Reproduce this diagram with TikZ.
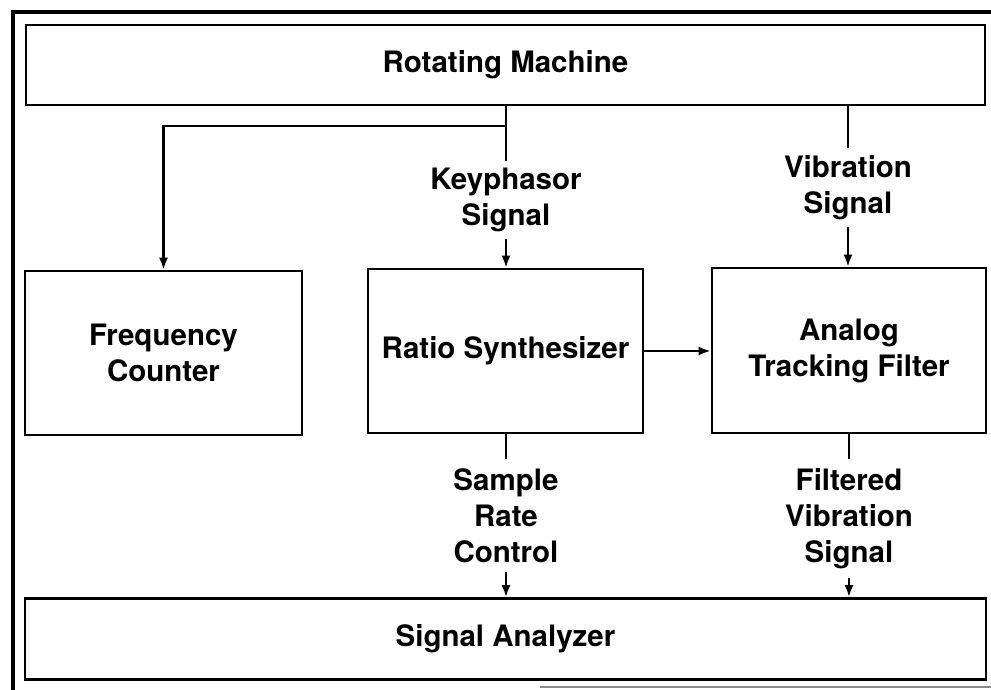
\documentclass[tikz,border=0pt]{standalone}
\usepackage{fontspec}
\setmainfont{TeX Gyre Heros}
\usetikzlibrary{arrows.meta}
\begin{document}
\begin{tikzpicture}[x=1pt,y=-1pt,
  txt/.style={font=\fontsize{29.5}{36}\selectfont\bfseries, align=center},
  block/.style={txt, draw, line width=2.6pt, inner sep=0pt},
  sig/.style={txt, inner xsep=2pt, inner ysep=7pt},
  wire/.style={line width=2.3pt},
  feed/.style={wire, -{Latex[length=12pt,width=9pt]}},
  frame/.style={line width=3.2pt}
]
\useasboundingbox (0,0) rectangle (991,690);

% outer frame
\draw[frame] (13,690) -- (13,12) -- (991,12);
\draw[line width=2pt, black!45] (540,687) -- (991,687);

% blocks
\node[block, minimum width=959pt, minimum height=80pt] (rm) at (505.5,65) {Rotating Machine};
\node[block, minimum width=277pt, minimum height=164pt] (fc) at (163.5,353) {Frequency\\Counter};
\node[block, minimum width=275pt, minimum height=164pt] (rs) at (505.5,351) {Ratio Synthesizer};
\node[block, minimum width=274pt, minimum height=165pt] (atf) at (849,350.5) {Analog\\Tracking Filter};
\node[block, minimum width=961pt, minimum height=81pt] (sa) at (505.5,639) {Signal Analyzer};

% signal labels
\node[sig, anchor=north] (kp) at (506,161) {Keyphasor\\Signal};
\node[sig, anchor=north] (vib) at (848,148) {Vibration\\Signal};
\node[sig, anchor=north, inner ysep=9pt] (src) at (506,459) {Sample\\Rate\\Control};
\node[sig, anchor=north, inner ysep=9pt] (fvs) at (849,459) {Filtered\\Vibration\\Signal};

% connectors
\coordinate (tap) at (506,126);
\draw[wire] (rm.south -| kp.north) -- (kp.north);
\draw[feed] (tap) -| (fc.north);
\draw[feed] (kp.south) -- (rs.north -| kp.south);
\draw[wire] (rm.south -| vib.north) -- (vib.north);
\draw[feed] (vib.south) -- (atf.north -| vib.south);
\draw[feed] (rs.east) -- (rs.east -| atf.west);
\draw[wire] (rs.south -| src.north) -- (src.north);
\draw[feed] (src.south) -- (sa.north -| src.south);
\draw[wire] (atf.south -| fvs.north) -- (fvs.north);
\draw[feed] (fvs.south) -- (sa.north -| fvs.south);
\end{tikzpicture}
\end{document}
